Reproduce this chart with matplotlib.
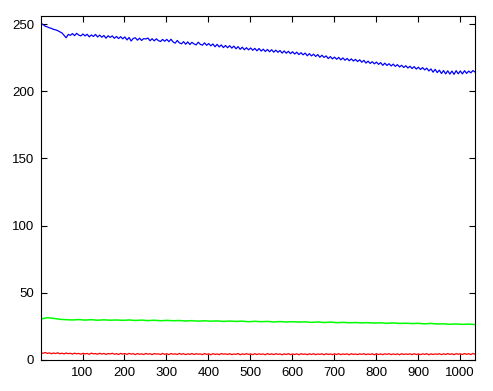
import numpy as np
import matplotlib.pyplot as plt

# sample positions
x_fine = np.arange(1, 1037, 5)     # 208 samples
x_green = np.arange(1, 1037, 15)   # 70 samples

blue_vals = [
    250.5, 249.6, 248.4, 247.9, 247.2, 246.8, 246.0, 245.7, 245.1, 244.2,
    243.4, 241.6, 239.8, 242.3, 241.6, 242.9, 241.4, 243.1, 241.8, 241.2,
    242.6, 241.2, 242.4, 240.5, 241.9, 240.8, 242.3, 240.4, 241.8, 240.2,
    241.5, 239.5, 241.3, 240.1, 241.2, 239.4, 240.8, 239.2, 240.6, 239.0,
    240.4, 238.2, 240.0, 237.4, 239.3, 239.8, 238.0, 239.5, 237.8, 239.2,
    238.9, 239.6, 237.6, 239.1, 237.5, 239.0, 237.7, 237.0, 238.6, 237.2,
    238.6, 236.9, 238.7, 236.7, 235.8, 237.8, 236.0, 235.3, 236.9, 235.0,
    236.7, 234.8, 236.4, 235.2, 234.5, 236.5, 234.9, 234.3, 236.0, 234.2,
    235.5, 233.8, 235.2, 233.1, 234.9, 233.0, 234.5, 232.5, 234.1, 232.4,
    233.9, 232.1, 233.6, 231.6, 233.2, 231.2, 232.8, 230.9, 232.4, 230.8,
    232.2, 230.5, 231.9, 230.1, 231.8, 229.9, 231.3, 229.6, 231.1, 229.4,
    230.9, 229.1, 230.6, 229.0, 230.3, 228.4, 230.0, 228.3, 229.7, 228.0,
    229.4, 227.7, 229.1, 227.3, 228.7, 227.1, 228.4, 226.4, 228.0, 226.3,
    227.6, 225.9, 227.3, 225.3, 226.8, 225.2, 226.3, 224.3, 225.8, 224.1,
    225.4, 223.8, 225.2, 223.4, 224.8, 223.1, 224.4, 222.7, 224.1, 222.5,
    223.7, 222.1, 223.4, 221.6, 223.0, 221.0, 222.4, 220.7, 222.0, 220.4,
    221.7, 220.0, 221.3, 219.3, 220.9, 219.2, 220.5, 218.8, 220.2, 218.5,
    219.8, 218.1, 219.3, 217.7, 219.0, 217.3, 218.6, 216.9, 218.3, 216.5,
    217.9, 216.2, 217.6, 215.9, 217.2, 215.1, 216.6, 214.2, 216.3, 213.9,
    215.7, 213.2, 215.4, 212.9, 215.2, 212.8, 215.0, 212.6, 215.3, 213.0,
    215.1, 212.9, 215.3, 213.3, 215.0, 213.7, 215.4, 214.3,
]

green_vals = [
    30.5, 31.5, 31.0, 30.3, 30.0, 29.8, 30.1, 29.7, 30.0, 29.6,
    29.9, 29.6, 29.8, 29.5, 29.8, 29.4, 29.7, 29.3, 29.6, 29.2,
    29.5, 29.2, 29.4, 29.0, 29.3, 28.9, 29.2, 28.9, 29.1, 28.7,
    29.0, 28.7, 28.9, 28.5, 28.8, 28.5, 28.7, 28.3, 28.6, 28.3,
    28.5, 28.2, 28.4, 28.0, 28.3, 27.9, 28.2, 27.8, 28.0, 27.7,
    27.9, 27.6, 27.8, 27.5, 27.7, 27.3, 27.6, 27.2, 27.4, 27.1,
    27.3, 26.9, 27.2, 26.8, 26.9, 26.6, 26.8, 26.5, 26.7, 26.4,
]

red_vals = [
    5.4, 5.0, 5.6, 4.9, 5.3, 4.7, 5.2, 4.8, 5.4, 4.6,
    5.1, 4.5, 5.2, 4.7, 5.0, 4.4, 5.1, 4.6, 4.9, 4.3,
    5.0, 4.5, 4.9, 4.2, 5.1, 4.6, 4.8, 4.3, 5.0, 4.4,
    4.9, 4.2, 4.8, 4.5, 5.0, 4.3, 4.7, 4.1, 4.9, 4.4,
    4.8, 4.2, 4.9, 4.4, 4.7, 4.0, 4.8, 4.3, 4.6, 4.1,
    4.9, 4.3, 4.7, 4.0, 4.8, 4.4, 4.6, 4.1, 4.9, 4.2,
    4.7, 4.0, 4.8, 4.3, 4.6, 4.1, 4.9, 4.2, 4.7, 4.0,
    4.6, 4.2, 4.8, 4.1, 4.7, 4.3, 4.5, 4.0, 4.8, 4.2,
    4.6, 3.9, 4.7, 4.2, 4.5, 4.0, 4.8, 4.3, 4.6, 4.1,
    4.7, 4.0, 4.5, 4.2, 4.8, 3.9, 4.6, 4.1, 4.7, 4.2,
    4.5, 4.0, 4.7, 4.1, 4.6, 4.2, 4.5, 3.9, 4.8, 4.1,
    4.6, 4.0, 4.7, 4.2, 4.5, 3.9, 4.6, 4.1, 4.7, 4.0,
    4.5, 4.1, 4.6, 3.9, 4.7, 4.2, 4.5, 4.0, 4.6, 4.1,
    4.7, 4.0, 4.5, 4.2, 4.6, 3.9, 4.7, 4.1, 4.5, 4.0,
    4.6, 4.1, 4.7, 4.0, 4.5, 4.2, 4.6, 3.9, 4.7, 4.1,
    4.5, 4.0, 4.6, 4.2, 4.7, 4.0, 4.5, 4.1, 4.6, 3.9,
    4.7, 4.1, 4.5, 4.0, 4.6, 4.2, 4.7, 4.0, 4.5, 4.1,
    4.6, 3.9, 4.7, 4.1, 4.5, 4.2, 4.6, 4.0, 4.7, 4.1,
    4.5, 4.0, 4.6, 4.2, 4.7, 3.9, 4.6, 4.1, 4.5, 4.2,
    4.7, 4.0, 4.6, 4.1, 4.8, 4.2, 4.6, 4.0, 4.7, 4.3,
    4.6, 4.1, 4.8, 4.2, 4.7, 4.0, 4.9, 4.3,
]

x_ticks = [100, 200, 300, 400, 500, 600, 700, 800, 900, 1000]
y_ticks = [0, 50, 100, 150, 200, 250]

plt.rcParams['font.family'] = ['Liberation Sans', 'DejaVu Sans']

fig = plt.figure(figsize=(4.93, 3.91), dpi=100)
ax = fig.add_axes([41 / 493, 31 / 391, 434 / 493, 344 / 391])

ax.plot(x_fine, blue_vals, color=(0, 0, 1), lw=0.9)
ax.plot(x_green, green_vals, color=(0, 1, 0), lw=1.1)
ax.plot(x_fine, red_vals, color=(1, 0, 0), lw=0.9)

ax.set_xlim(1, 1036)
ax.set_ylim(0, 256)
ax.set_xticks(x_ticks)
ax.set_yticks(y_ticks)
ax.tick_params(direction='in', length=4, width=0.8, labelsize=9.5,
               top=True, right=True, pad=5)
for s in ax.spines.values():
    s.set_linewidth(0.8)

fig.savefig("out.png", dpi=100)
